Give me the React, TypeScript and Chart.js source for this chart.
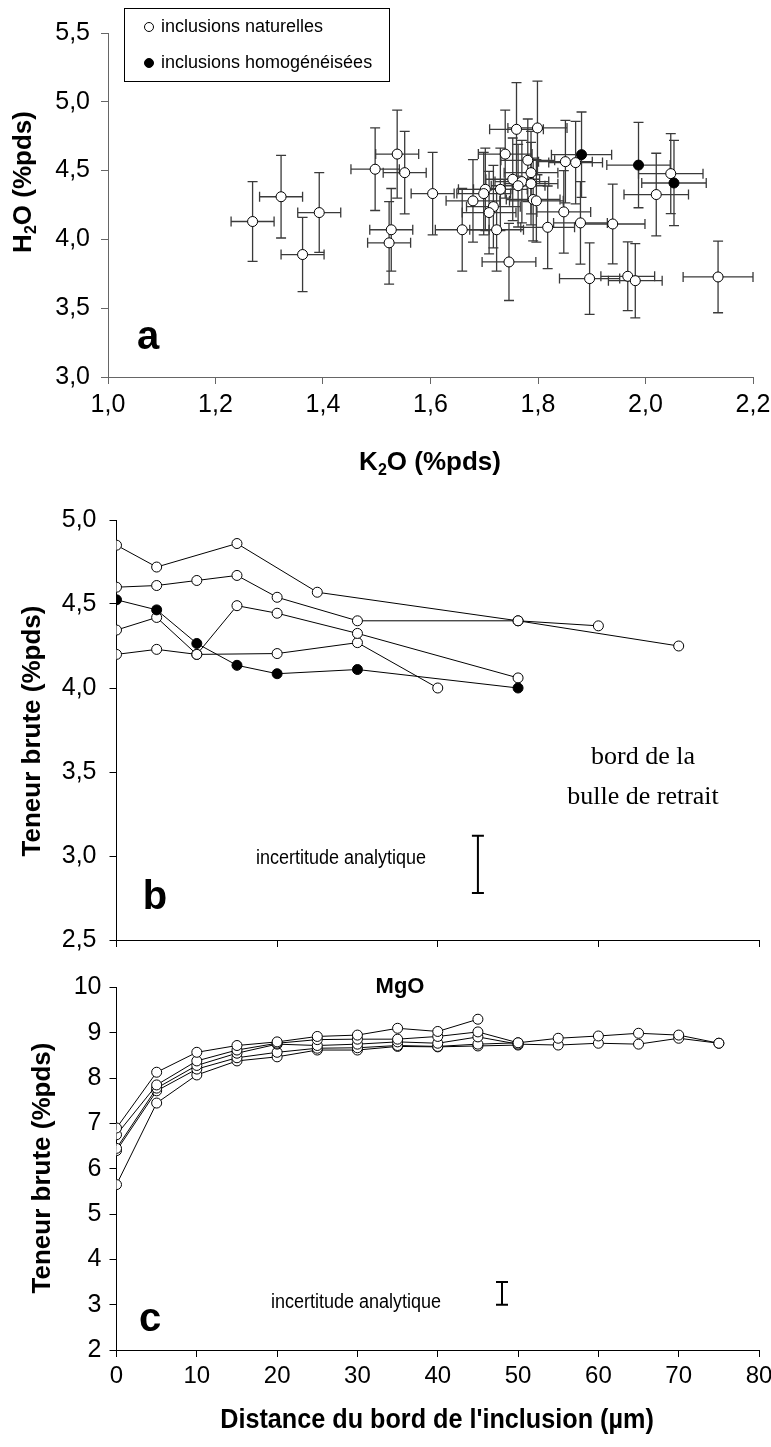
import React, { useEffect, useRef } from "react";
import { Chart, registerables } from "chart.js";
Chart.register(...registerables);

const SANS = "'Liberation Sans', Arial, Helvetica, sans-serif";
const NARROW = "'Liberation Sans Narrow', 'Arial Narrow', 'Liberation Sans', sans-serif";
const SERIF = "'Liberation Serif', 'Times New Roman', serif";

// ---------- Panel a : H2O vs K2O ----------
const natK = [1.269, 1.322, 1.393, 1.362, 1.497, 1.538, 1.552, 1.604, 1.527, 1.523, 1.659, 1.76, 1.799, 1.739, 1.781, 1.851, 1.87, 2.047, 2.02, 1.787, 1.753, 1.77, 1.787, 1.763, 1.73, 1.702, 1.699, 1.679, 1.717, 1.709, 1.791, 1.797, 1.848, 1.723, 1.818, 1.879, 1.939, 1.746, 1.896, 1.967, 1.981, 2.135];
const natH = [4.13, 4.31, 4.195, 3.89, 4.51, 4.62, 4.485, 4.333, 4.07, 3.975, 4.07, 4.8, 4.81, 4.62, 4.575, 4.565, 4.558, 4.478, 4.326, 4.485, 4.437, 4.42, 4.405, 4.39, 4.364, 4.364, 4.333, 4.28, 4.238, 4.195, 4.29, 4.28, 4.2, 4.07, 4.088, 4.12, 4.112, 3.836, 3.715, 3.732, 3.7, 3.727];
const natKErr = [0.04, 0.04, 0.04, 0.04, 0.045, 0.04, 0.04, 0.04, 0.04, 0.04, 0.05, 0.05, 0.055, 0.05, 0.05, 0.05, 0.05, 0.06, 0.06, 0.05, 0.05, 0.05, 0.05, 0.05, 0.05, 0.05, 0.05, 0.05, 0.05, 0.05, 0.05, 0.05, 0.05, 0.05, 0.05, 0.05, 0.06, 0.05, 0.056, 0.05, 0.05, 0.065];
const natHErr = [0.29, 0.3, 0.29, 0.27, 0.3, 0.32, 0.3, 0.3, 0.3, 0.3, 0.3, 0.34, 0.34, 0.32, 0.3, 0.3, 0.3, 0.29, 0.3, 0.3, 0.3, 0.3, 0.3, 0.3, 0.3, 0.3, 0.3, 0.3, 0.3, 0.3, 0.3, 0.3, 0.3, 0.3, 0.3, 0.3, 0.29, 0.28, 0.26, 0.25, 0.27, 0.26];
const homK = [1.881, 1.987, 2.053];
const homH = [4.616, 4.54, 4.41];
const homKErr = [0.056, 0.059, 0.06];
const homHErr = [0.31, 0.31, 0.31];
const aXTicks = [1.0, 1.2, 1.4, 1.6, 1.8, 2.0, 2.2];
const aYTicks = [3.0, 3.5, 4.0, 4.5, 5.0, 5.5];

// ---------- Panel b : H2O profiles ----------
const bX1 = [0, 5, 15, 25, 50, 70];
const bY1 = [4.85, 4.72, 4.86, 4.57, 4.4, 4.25];
const bX2 = [0, 5, 10, 15, 20, 30, 50, 60];
const bY2 = [4.6, 4.61, 4.64, 4.67, 4.54, 4.4, 4.4, 4.37];
const bX3 = [0, 5, 10, 15, 20, 30, 50];
const bY3 = [4.345, 4.42, 4.2, 4.49, 4.445, 4.325, 4.06];
const bX4 = [0, 5, 10, 20, 30, 40];
const bY4 = [4.2, 4.23, 4.2, 4.205, 4.27, 4.0];
const bXh = [0, 5, 10, 15, 20, 30, 50];
const bYh = [4.525, 4.465, 4.265, 4.135, 4.085, 4.11, 4.0];
const bXTicks = [0, 20, 40, 60, 80];
const bYTicks = [2.5, 3.0, 3.5, 4.0, 4.5, 5.0];
const bUncX = 45;
const bUnc = [2.78, 3.12];

// ---------- Panel c : MgO profiles ----------
const cXA = [0, 5, 10, 15, 20, 25, 30, 35, 40, 45];
const cYA = [6.9, 8.13, 8.57, 8.72, 8.8, 8.92, 8.95, 9.1, 9.03, 9.3];
const cXB = [0, 5, 10, 15, 20, 25, 30, 35, 40, 45, 50, 55, 60, 65, 70, 75];
const cYB = [6.75, 7.85, 8.38, 8.62, 8.77, 8.85, 8.86, 8.86, 8.92, 9.02, 8.78, 8.88, 8.93, 8.99, 8.95, 8.77];
const cXC = [0, 5, 10, 15, 20, 25, 30, 35, 40, 45, 50, 55, 60, 65, 70, 75];
const cYC = [6.45, 7.78, 8.28, 8.55, 8.75, 8.72, 8.75, 8.8, 8.77, 8.91, 8.75, 8.73, 8.77, 8.75, 8.88, 8.77];
const cXD = [0, 5, 10, 15, 20, 25, 30, 35, 40, 45, 50];
const cYD = [6.4, 7.72, 8.2, 8.45, 8.57, 8.66, 8.67, 8.72, 8.7, 8.75, 8.78];
const cXE = [0, 5, 10, 15, 20, 25, 30, 35, 40, 45, 50];
const cYE = [5.65, 7.45, 8.07, 8.38, 8.47, 8.62, 8.62, 8.7, 8.69, 8.71, 8.73];
const cXTicks = [0, 10, 20, 30, 40, 50, 60, 70, 80];
const cYTicks = [2, 3, 4, 5, 6, 7, 8, 9, 10];
const cUncX = 48;
const cUnc = [3.0, 3.5];

const CW = 800;

type Seg = { t: string; sub?: boolean };
function drawRich(ctx: CanvasRenderingContext2D, segs: Seg[], cx: number, cy: number, size: number, weight: string, family: string, rot = 0, sx = 1) {
  ctx.save();
  ctx.translate(cx, cy);
  if (rot) ctx.rotate(rot);
  if (sx !== 1) ctx.scale(sx, 1);
  const fontFor = (s: Seg) => `${weight} ${s.sub ? Math.round(size * 0.62) : size}px ${family}`;
  let w = 0;
  segs.forEach((s) => { ctx.font = fontFor(s); w += ctx.measureText(s.t).width; });
  let x = -w / 2;
  ctx.textBaseline = "middle";
  ctx.textAlign = "left";
  ctx.fillStyle = "#000";
  segs.forEach((s) => {
    ctx.font = fontFor(s);
    ctx.fillText(s.t, x, s.sub ? size * 0.28 : 0);
    x += ctx.measureText(s.t).width;
  });
  ctx.restore();
}

const errorBarPlugin = {
  id: "errBars",
  beforeDatasetsDraw(chart: any) {
    const { ctx } = chart;
    const xs = chart.scales.x, ys = chart.scales.y;
    ctx.save();
    ctx.strokeStyle = "#3a3a3a";
    ctx.lineWidth = 1.3;
    chart.data.datasets.forEach((ds: any) => {
      if (!ds.errX) return;
      ds.data.forEach((p: any, i: number) => {
        const px = xs.getPixelForValue(p.x), py = ys.getPixelForValue(p.y);
        const x0 = xs.getPixelForValue(p.x - ds.errX[i]), x1 = xs.getPixelForValue(p.x + ds.errX[i]);
        const y0 = ys.getPixelForValue(p.y - ds.errY[i]), y1 = ys.getPixelForValue(p.y + ds.errY[i]);
        const c = 5;
        ctx.beginPath();
        ctx.moveTo(x0, py); ctx.lineTo(x1, py);
        ctx.moveTo(x0, py - c); ctx.lineTo(x0, py + c);
        ctx.moveTo(x1, py - c); ctx.lineTo(x1, py + c);
        ctx.moveTo(px, y0); ctx.lineTo(px, y1);
        ctx.moveTo(px - c, y0); ctx.lineTo(px + c, y0);
        ctx.moveTo(px - c, y1); ctx.lineTo(px + c, y1);
        ctx.stroke();
      });
    });
    ctx.restore();
  },
};

function drawUncBar(chart: any, xv: number, range: number[]) {
  const { ctx } = chart;
  const xs = chart.scales.x, ys = chart.scales.y;
  const px = xs.getPixelForValue(xv);
  const y0 = ys.getPixelForValue(range[0]), y1 = ys.getPixelForValue(range[1]);
  ctx.save();
  ctx.strokeStyle = "#000";
  ctx.lineWidth = 2;
  ctx.beginPath();
  ctx.moveTo(px, y0); ctx.lineTo(px, y1);
  ctx.moveTo(px - 6, y0); ctx.lineTo(px + 6, y0);
  ctx.moveTo(px - 6, y1); ctx.lineTo(px + 6, y1);
  ctx.stroke();
  ctx.restore();
}

function axis(o: { min: number; max: number; ticks: number[]; fmt: (v: number) => string; size: number; isX: boolean; color: string; font: any; labels?: boolean; pad?: number }) {
  return {
    type: "linear",
    min: o.min,
    max: o.max,
    afterBuildTicks: (s: any) => { s.ticks = o.ticks.map((v) => ({ value: v })); },
    afterFit: (s: any) => { if (o.isX) s.height = o.size; else s.width = o.size; },
    grid: { display: true, drawOnChartArea: false, drawTicks: true, tickLength: 7, color: o.color, lineWidth: 1 },
    border: { display: true, color: o.color, width: 1 },
    ticks: { display: o.labels !== false, autoSkip: false, maxRotation: 0, padding: o.pad ?? 6, color: "#000", font: o.font, callback: (v: any) => o.fmt(Number(v)) },
  };
}

const comma = (v: number) => v.toFixed(1).replace(".", ",");

function lineSet(xs: number[], ys: number[], filled: boolean) {
  return {
    data: xs.map((x, i) => ({ x, y: ys[i] })),
    showLine: true,
    borderColor: "#000",
    borderWidth: 1,
    pointRadius: 5,
    pointBackgroundColor: filled ? "#000" : "#fff",
    pointBorderColor: "#000",
    pointBorderWidth: 1,
  };
}

function configA() {
  const top = 0, H = 490;
  return {
    height: H, top,
    cfg: {
      type: "scatter",
      data: {
        datasets: [
          { label: "inclusions homogénéisées", data: homK.map((k, i) => ({ x: k, y: homH[i] })), errX: homKErr, errY: homHErr, pointRadius: 5, pointBackgroundColor: "#000", pointBorderColor: "#000", pointBorderWidth: 1 },
          { label: "inclusions naturelles", data: natK.map((k, i) => ({ x: k, y: natH[i] })), errX: natKErr, errY: natHErr, pointRadius: 5, pointBackgroundColor: "#fff", pointBorderColor: "#000", pointBorderWidth: 1 },
        ],
      },
      options: {
        responsive: false, animation: false, devicePixelRatio: 1, events: [],
        layout: { padding: { left: 0, top: 33, right: CW - 753, bottom: 0 } },
        plugins: { legend: { display: false }, tooltip: { enabled: false } },
        scales: {
          x: axis({ min: 1.0, max: 2.2, ticks: aXTicks, fmt: comma, size: H - 377, isX: true, color: "#666", font: { family: SANS, size: 25 }, pad: 6 }),
          y: axis({ min: 3.0, max: 5.5, ticks: aYTicks, fmt: comma, size: 108, isX: false, color: "#666", font: { family: SANS, size: 25 }, pad: 11 }),
        },
      },
      plugins: [
        errorBarPlugin,
        {
          id: "textA",
          afterDraw(chart: any) {
            const ctx = chart.ctx;
            ctx.save();
            ctx.strokeStyle = "#000"; ctx.lineWidth = 1;
            ctx.strokeRect(124.5, 8.5, 265, 73);
            ctx.beginPath(); ctx.arc(149, 27, 4.5, 0, Math.PI * 2); ctx.fillStyle = "#fff"; ctx.fill(); ctx.stroke();
            ctx.beginPath(); ctx.arc(149, 63, 4.5, 0, Math.PI * 2); ctx.fillStyle = "#000"; ctx.fill(); ctx.stroke();
            ctx.fillStyle = "#000"; ctx.font = `18px ${SANS}`; ctx.textBaseline = "middle"; ctx.textAlign = "left";
            ctx.fillText("inclusions naturelles", 161, 27);
            ctx.fillText("inclusions homogénéisées", 161, 63);
            ctx.restore();
            drawRich(ctx, [{ t: "a" }], 148, 338 - top, 40, "bold", SANS);
            drawRich(ctx, [{ t: "H" }, { t: "2", sub: true }, { t: "O (%pds)" }], 24, 182 - top, 26, "bold", SANS, -Math.PI / 2);
            drawRich(ctx, [{ t: "K" }, { t: "2", sub: true }, { t: "O (%pds)" }], 430, 463 - top, 26, "bold", SANS);
          },
        },
      ],
    },
  };
}

function configB() {
  const top = 490, H = 480;
  return {
    height: H, top,
    cfg: {
      type: "scatter",
      data: {
        datasets: [lineSet(bXh, bYh, true), lineSet(bX1, bY1, false), lineSet(bX2, bY2, false), lineSet(bX3, bY3, false), lineSet(bX4, bY4, false)],
      },
      options: {
        responsive: false, animation: false, devicePixelRatio: 1, events: [],
        layout: { padding: { left: 0, top: 520 - top, right: CW - 759, bottom: 0 } },
        plugins: { legend: { display: false }, tooltip: { enabled: false } },
        scales: {
          x: axis({ min: 0, max: 80, ticks: bXTicks, fmt: (v) => String(v), size: H - (940 - top), isX: true, color: "#000", font: { family: SANS, size: 22 }, labels: false }),
          y: axis({ min: 2.5, max: 5.0, ticks: bYTicks, fmt: comma, size: 116.5, isX: false, color: "#000", font: { family: SANS, size: 25 }, pad: 13 }),
        },
      },
      plugins: [
        {
          id: "textB",
          afterDraw(chart: any) {
            const ctx = chart.ctx;
            drawUncBar(chart, bUncX, bUnc);
            drawRich(ctx, [{ t: "b" }], 155, 898 - top, 40, "bold", SANS);
            drawRich(ctx, [{ t: "Teneur brute (%pds)" }], 33, 731 - top, 26, "bold", SANS, -Math.PI / 2);
            drawRich(ctx, [{ t: "incertitude analytique" }], 341, 858 - top, 20, "normal", SANS, 0, 0.9);
            drawRich(ctx, [{ t: "bord de la" }], 643, 757 - top, 26, "normal", SERIF);
            drawRich(ctx, [{ t: "bulle de retrait" }], 643, 797 - top, 26, "normal", SERIF);
          },
        },
      ],
    },
  };
}

function configC() {
  const top = 960, H = 487;
  return {
    height: H, top,
    cfg: {
      type: "scatter",
      data: {
        datasets: [lineSet(cXA, cYA, false), lineSet(cXB, cYB, false), lineSet(cXC, cYC, false), lineSet(cXD, cYD, false), lineSet(cXE, cYE, false)],
      },
      options: {
        responsive: false, animation: false, devicePixelRatio: 1, events: [],
        layout: { padding: { left: 0, top: 987.5 - top, right: CW - 759, bottom: 0 } },
        plugins: { legend: { display: false }, tooltip: { enabled: false } },
        scales: {
          x: axis({ min: 0, max: 80, ticks: cXTicks, fmt: (v) => String(v), size: H - (1350 - top), isX: true, color: "#000", font: { family: NARROW, size: 24 }, pad: 5 }),
          y: axis({ min: 2, max: 10, ticks: cYTicks, fmt: (v) => String(v), size: 116.5, isX: false, color: "#000", font: { family: SANS, size: 25 }, pad: 8 }),
        },
      },
      plugins: [
        {
          id: "textC",
          afterDraw(chart: any) {
            const ctx = chart.ctx;
            drawUncBar(chart, cUncX, cUnc);
            drawRich(ctx, [{ t: "MgO" }], 400, 987 - top, 22, "bold", SANS);
            drawRich(ctx, [{ t: "c" }], 150, 1320 - top, 40, "bold", SANS);
            drawRich(ctx, [{ t: "Teneur brute (%pds)" }], 43, 1168 - top, 26, "bold", SANS, -Math.PI / 2);
            drawRich(ctx, [{ t: "incertitude analytique" }], 356, 1302 - top, 20, "normal", SANS, 0, 0.9);
            drawRich(ctx, [{ t: "Distance du bord de l'inclusion (µm)" }], 437, 1420 - top, 28, "bold", SANS, 0, 0.9);
          },
        },
      ],
    },
  };
}

function Panel({ make }: { make: () => any }) {
  const ref = useRef<HTMLCanvasElement>(null);
  const spec = make();
  useEffect(() => {
    const chart = new Chart(ref.current as HTMLCanvasElement, spec.cfg as any);
    return () => chart.destroy();
  }, []);
  return (
    <canvas
      ref={ref}
      width={CW}
      height={spec.height}
      style={{ position: "absolute", left: 0, top: spec.top, width: CW, height: spec.height, display: "block" }}
    />
  );
}

export default function App() {
  return (
    <div style={{ position: "absolute", left: 0, top: 0, width: 771, height: 1447, overflow: "hidden", background: "#fff" }}>
      <Panel make={configA} />
      <Panel make={configB} />
      <Panel make={configC} />
    </div>
  );
}
